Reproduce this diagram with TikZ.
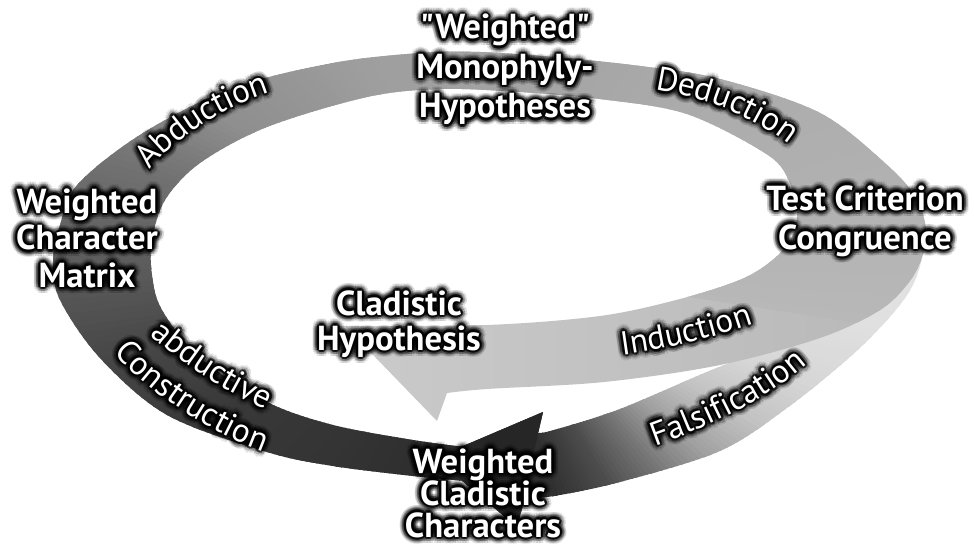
\documentclass[tikz,border=0pt]{standalone}
\usepackage{fontspec}
\setmainfont{PT Sans}[Ligatures=TeXOff]
\usetikzlibrary{decorations.text}

% ---------- text halo: dark soft glow behind white lettering ----------
\newsavebox\halobox
\newcommand\ringcopies[3]{% copies of #3 on a ring of radius #1, fill opacity #2
  \pgfsetfillopacity{#2}%
  \foreach \ringang in {0,22.5,...,337.5}{%
    \pgfmathsetlengthmacro\ringx{#1*cos(\ringang)}%
    \pgfmathsetlengthmacro\ringy{#1*sin(\ringang)}%
    \rlap{\kern\ringx\raise\ringy\hbox{#3}}}%
}
\newcommand\haloall[1]{%
  \ringcopies{5pt}{0.10}{#1}\ringcopies{3.5pt}{0.17}{#1}%
  \ringcopies{1.8pt}{0.42}{#1}\pgfsetfillopacity{1}\phantom{#1}}
\newcommand\halobegin{\setbox\halobox\hbox\bgroup}
\newcommand\haloend{\egroup\haloall{\usebox\halobox}}

% centred lines with a fixed baseline pitch
\newcommand\stack[2]{\vtop{\baselineskip=#1\relax\lineskiplimit=-\maxdimen
  \halign{\hfil##\hfil\cr#2\crcr}}}

\newcommand\labelfont{\bfseries\fontsize{26pt}{30pt}\selectfont}
\newcommand\arcfont{\fontsize{25pt}{29pt}\selectfont}

% ---------- wedge fan: grey changing with the angle round a centre ----------
\newcommand\conic[5]{% inner radius, angle from, angle to, black% from, black% to
  \foreach \wa in {#2,...,#3}{%
    \pgfmathsetmacro\wp{#4+(#5-#4)*(\wa-(#2))/((#3)-(#2))}%
    \fill[black!\wp] (\wa-0.7:#1) -- (\wa-0.7:700) -- (\wa+0.7:700) -- (\wa+0.7:#1) -- cycle;}}

% ---------- ribbon outlines ----------
\newcommand\looppath{(465,481) -- plot[smooth,tension=0.55] coordinates {(465,481) (413,476) (333,466) (267,452) (167,415) (100,358) (60,300) (53,262) (60,225) (78,184) (143,133) (233,88) (333,63) (420,53) (480,52) (553,57) (640,66) (720,79) (820,113) (887,165) (916,198) (926,230) (922,257) (909,282) (880,310) (820,338) (720,365) (604,382) (487,389) (447,393)} -- (437,421) -- (345,326) -- plot[smooth,tension=0.55] coordinates {(345,326) (487,325) (600,316) (680,299) (742,279) (775,258) (793,235) (797,210) (790,183) (768,155) (687,114) (600,99) (520,92) (440,89) (367,97) (267,127) (200,163) (165,200) (152,240) (152,275) (162,310) (200,358) (267,402) (333,425) (413,440) (465,447)} -- cycle}

\newcommand\falsipath{(896,205) -- plot[smooth,tension=0.55] coordinates {(896,205) (915,222) (923,242) (920,266) (909,292) (887,320) (850,357) (787,408) (720,451) (620,482) (554,496) (525,498)} -- (517,527) -- (435,458) -- (543,412) -- (538,433) -- plot[smooth,tension=0.55] coordinates {(538,433) (554,430) (620,409) (714,369) (800,336) (858,302) (885,262) (890,225) (896,205)} -- cycle}

\tikzset{
  boldhalo/.style={anchor=base, inner sep=0pt, text=black, font=\labelfont},
  boldword/.style={anchor=base, inner sep=0pt, text=white, font=\labelfont},
  arcglow/.style={decorate, decoration={text effects along path, text={#1},
      text effects/.cd, text along path,
      every character/.append style={font=\arcfont, text=black, inner sep=0pt,
        execute at begin node=\halobegin, execute at end node=\haloend}}},
  arcword/.style={decorate, decoration={text effects along path, text={#1},
      text effects/.cd, text along path,
      every character/.append style={font=\arcfont, text=white, inner sep=0pt}}},
}

\begin{document}
\begin{tikzpicture}[x=0.75pt,y=-0.75pt]
\useasboundingbox (0,0) rectangle (974,549);
\fill[white] (0,0) rectangle (974,549);

% outer turn of the spiral (falsification), behind the main loop
\begin{scope}
  \clip \falsipath;
  \begin{scope}[shift={(480,265)}]
    \conic{0}{-15}{8}{11}{12}
    \conic{0}{8}{20}{12}{16}
    \conic{0}{20}{30}{16}{24}
    \conic{0}{30}{40}{24}{37}
    \conic{0}{40}{50}{37}{55}
    \conic{0}{50}{60}{55}{70}
    \conic{0}{60}{72}{70}{81}
    \conic{0}{72}{110}{81}{85}
  \end{scope}
\end{scope}

% main loop, ending in the inner (induction) arrow
\shade[left color=black!17, right color=black!28] \looppath;
\begin{scope}
  \clip \looppath;
  \begin{scope}[shift={(480,265)}]
    \conic{170}{86}{125}{84}{80}
    \conic{170}{125}{150}{80}{78}
    \conic{170}{150}{165}{78}{73}
    \conic{170}{165}{180}{73}{64}
    \conic{0}{180}{195}{64}{56}
    \conic{0}{195}{210}{56}{44}
    \conic{0}{210}{240}{44}{38}
    \conic{0}{240}{300}{38}{35}
    \conic{0}{300}{345}{35}{31}
    \conic{0}{345}{368}{31}{28}
  \end{scope}
\end{scope}

% head of the falsification arrow over the tail of the loop
\fill[black!85] (543,412) -- (435,458) -- (517,527) -- cycle;

% ---------- halos ----------
\node[boldhalo] (hyp-halo) at (505,39) {\haloall{\stack{29.6pt}{"Weighted"\cr Monophyly-\cr Hypotheses}}};
\node[boldhalo] (matrix-halo) at (87,213) {\haloall{\stack{27.75pt}{Weighted\cr Character\cr Matrix}}};
\node[boldhalo] (test-halo) at (865,210) {\haloall{\stack{29.25pt}{Test Criterion\cr Congruence}}};
\node[boldhalo] (clad-halo) at (399,315) {\haloall{\stack{26.25pt}{Cladistic\cr Hypothesis}}};
\node[boldhalo] (chars-halo) at (483,473) {\haloall{\stack{24pt}{Weighted\cr Cladistic\cr Characters}}};

\path[arcglow={Abduction}] (150,170) .. controls (180,133) and (228,103) .. (292,86);
\path[arcglow={Deduction}] (655,90) .. controls (700,97) and (752,113) .. (796,150);
\path[arcglow={Induction}] (622,355) .. controls (665,349) and (715,338) .. (765,320);
\path[arcglow={Falsification}] (655,446) .. controls (705,428) and (765,402) .. (812,360);
\path[arcglow={abductive}] (150,335) .. controls (185,365) and (225,392) .. (272,412);
\path[arcglow={Construction}] (114,352) .. controls (144,390) and (215,436) .. (270,454);

% ---------- white lettering ----------
\node[boldword] (hyp) at (505,39) {\stack{29.6pt}{"Weighted"\cr Monophyly-\cr Hypotheses}};
\node[boldword] (matrix) at (87,213) {\stack{27.75pt}{Weighted\cr Character\cr Matrix}};
\node[boldword] (test) at (865,210) {\stack{29.25pt}{Test Criterion\cr Congruence}};
\node[boldword] (clad) at (399,315) {\stack{26.25pt}{Cladistic\cr Hypothesis}};
\node[boldword] (chars) at (483,473) {\stack{24pt}{Weighted\cr Cladistic\cr Characters}};

\path[arcword={Abduction}] (150,170) .. controls (180,133) and (228,103) .. (292,86);
\path[arcword={Deduction}] (655,90) .. controls (700,97) and (752,113) .. (796,150);
\path[arcword={Induction}] (622,355) .. controls (665,349) and (715,338) .. (765,320);
\path[arcword={Falsification}] (655,446) .. controls (705,428) and (765,402) .. (812,360);
\path[arcword={abductive}] (150,335) .. controls (185,365) and (225,392) .. (272,412);
\path[arcword={Construction}] (114,352) .. controls (144,390) and (215,436) .. (270,454);
\end{tikzpicture}
\end{document}
